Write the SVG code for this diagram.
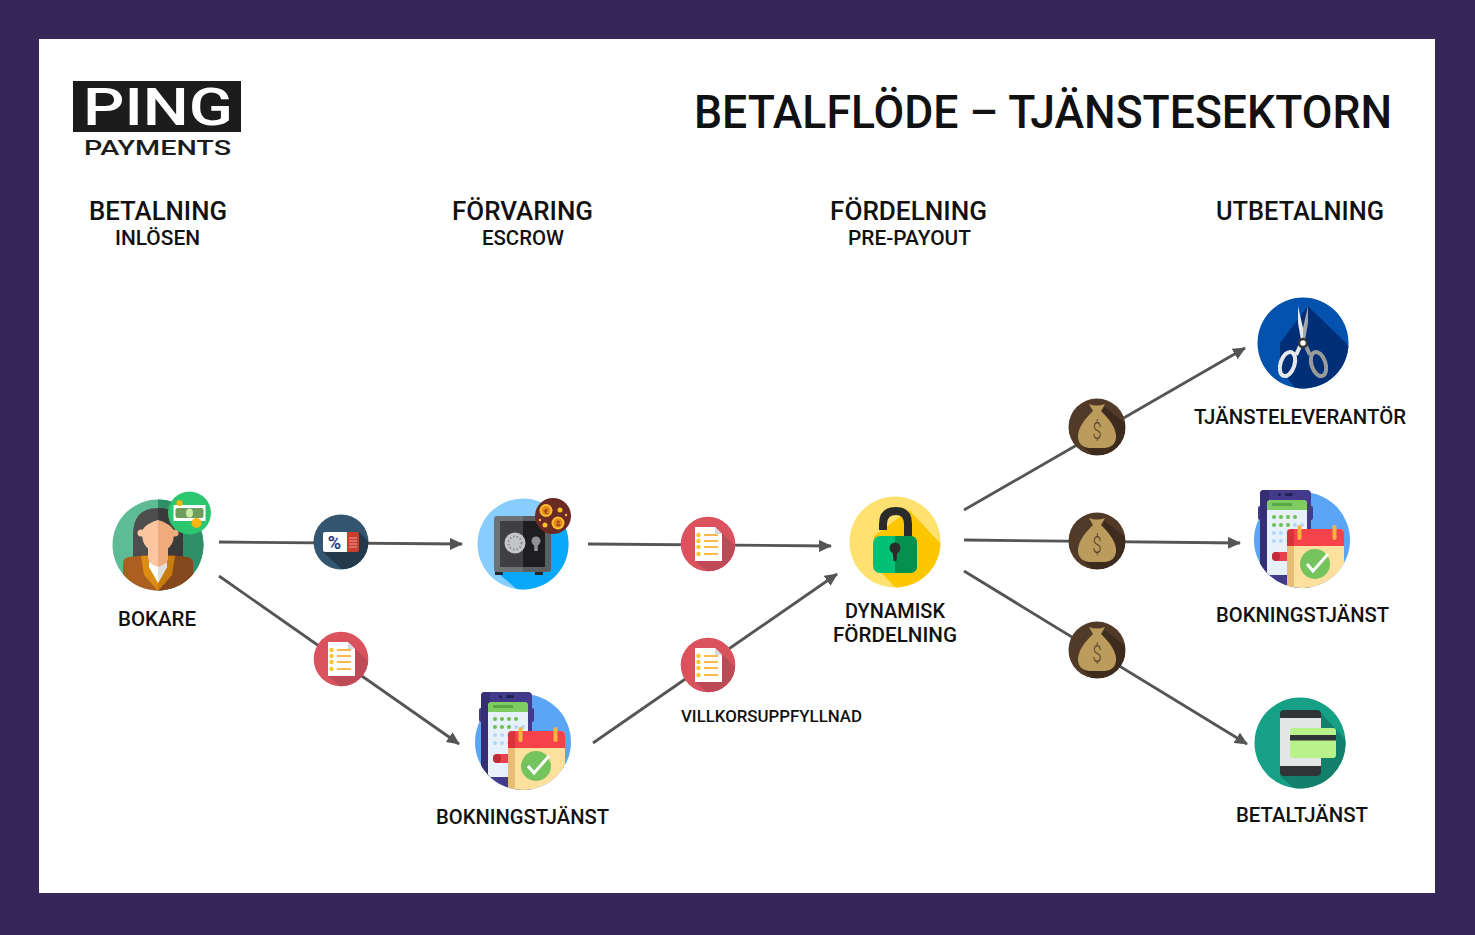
<svg xmlns="http://www.w3.org/2000/svg" xmlns:xlink="http://www.w3.org/1999/xlink" width="1475" height="935" viewBox="0 0 1475 935">
<style>
text{font-family:"Roboto","Liberation Sans",sans-serif;fill:#111;font-weight:500}
.title{font-size:46px}
.head{font-size:26px}
.sub{font-size:20px}
.lab{font-size:21px}
.small{font-size:17px}
.conn{stroke:#555;stroke-width:2.8;fill:none;marker-end:url(#arrow)}
</style>
<defs>
<marker id="arrow" markerUnits="userSpaceOnUse" markerWidth="14" markerHeight="12" refX="12" refY="6" orient="auto"><path d="M0 0L13 6L0 12Z" fill="#555"/></marker>
<clipPath id="c455"><circle r="45.5"/></clipPath>
<clipPath id="c48"><circle r="48"/></clipPath>
<clipPath id="cbook"><circle r="48"/><rect x="-50" y="-55" width="100" height="55"/></clipPath>
<clipPath id="c27"><circle r="27.3"/></clipPath>
<clipPath id="c285"><circle r="28.5"/></clipPath>
<g id="doc">
<circle r="27.3" fill="#d9525e"/>
<path d="M14 -11L28 3V28H0L-13 17Z" fill="#bf4a57" clip-path="url(#c27)"/>
<path d="M-13 -17H7L14 -10V17H-13Z" fill="#fff"/>
<path d="M7 -17L14 -10H7Z" fill="#d3dbe2"/>
<g fill="#fdc72b"><circle cx="-9.500" cy="-9" r="2.200"/><circle cx="-9.500" cy="-3" r="2.200"/><circle cx="-9.500" cy="3" r="2.200"/><circle cx="-9.500" cy="10" r="2.200"/></g>
<path d="M-4 -9H10M-4 -3H10M-4 3H10M-4 10H10" stroke="#fdb84d" stroke-width="1.800"/>
</g>
<g id="bag">
<circle r="28.5" fill="#513a28"/>
<path d="M8 -20L28 -4V28H-5L-18 16Z" fill="#3d2c1e" clip-path="url(#c285)"/>
<path d="M-6 -14Q-20 0 -19 11Q-18 20 -8 21H8Q18 20 19 11Q20 0 6 -14Z" fill="#bb9c5c"/>
<path d="M-6 -14L-4 -16L-8 -23Q0 -20 8 -23L4 -16L6 -14Z" fill="#bb9c5c"/>
<text x="-4.500" y="12" textLength="9" lengthAdjust="spacingAndGlyphs" style="font-size:23px;font-weight:300;fill:#5a3f2a">$</text>
</g>
<g id="booking">
<circle r="48" fill="#5aa5f5"/>
<g clip-path="url(#cbook)">
<rect x="-44" y="-34" width="4" height="14" rx="2" fill="#433a8c"/>
<rect x="7" y="-34" width="4" height="14" rx="2" fill="#433a8c"/>
<path d="M-42 -46Q-42 -50 -38 -50H5Q9 -50 9 -46V48H-42Z" fill="#433a8c"/>
<path d="M-42 -46Q-42 -50 -38 -50H-33V48H-42Z" fill="#352e75"/>
<rect x="-24" y="-47" width="3" height="3" rx="1.500" fill="#1d2450"/><rect x="-17" y="-47" width="8" height="3" rx="1.500" fill="#1d2450"/>
<path d="M-35 -36Q-35 -40 -31 -40H1Q5 -40 5 -36V35H-35Z" fill="#e6f1fb"/>
<path d="M-35 -36Q-35 -40 -31 -40H1Q5 -40 5 -36V-30H-35Z" fill="#7ecb60"/>
<rect x="-30" y="-37" width="20" height="3" fill="#5aa544"/>
<g fill="#6fbe4f"><circle cx="-28" cy="-23" r="2"/><circle cx="-21" cy="-23" r="2"/><circle cx="-14" cy="-23" r="2"/><circle cx="-7" cy="-23" r="2"/><circle cx="-28" cy="-15" r="2"/><circle cx="-21" cy="-15" r="2"/><circle cx="-14" cy="-15" r="2"/></g>
<g fill="#b6d6f5"><circle cx="-7" cy="-15" r="2"/><circle cx="0" cy="-15" r="2"/><circle cx="-28" cy="-7" r="2"/><circle cx="-21" cy="-7" r="2"/><circle cx="-14" cy="-7" r="2"/><circle cx="-28" cy="1" r="2"/><circle cx="-21" cy="1" r="2"/><circle cx="-14" cy="1" r="2"/></g>
<rect x="-30" y="12" width="24" height="9" rx="4.500" fill="#e9414d"/>
<rect x="-30" y="12" width="8" height="9" rx="4" fill="#c22a38"/>
<path d="M-15 -7Q-15 -11 -11 -11H38Q42 -11 42 -7V48H-15Z" fill="#fde09b"/>
<path d="M-15 -7Q-15 -11 -11 -11H38Q42 -11 42 -7V6H-15Z" fill="#f6424a"/>
<path d="M-15 -7Q-15 -11 -11 -11H-8V48H-15Z" fill="#e8bd75"/>
<path d="M-15 -7Q-15 -11 -11 -11H-8V6H-15Z" fill="#d8323b"/>
<rect x="-4.500" y="-15" width="4" height="15" rx="2" fill="#f6b63e"/><rect x="30.500" y="-15" width="4" height="15" rx="2" fill="#f6b63e"/>
<circle cx="13" cy="24" r="15" fill="#74c35c"/>
<path d="M5 24L11 31L26 14" fill="none" stroke="#fff" stroke-width="3"/>
</g>
</g>
</defs>

<rect width="1475" height="935" fill="#352757"/>
<rect x="39" y="39" width="1396" height="854" fill="#fff"/>

<g id="logo">
<rect x="73" y="81" width="168" height="51" fill="#1c1c1c"/>
<text x="83" y="125" textLength="150" lengthAdjust="spacingAndGlyphs" style="font-size:52px;fill:#fff">PING</text>
<text x="84" y="155" textLength="147" lengthAdjust="spacingAndGlyphs" style="font-size:20px;fill:#1c1c1c">PAYMENTS</text>
</g>
<text id="title" class="title" x="694" y="128" textLength="698" lengthAdjust="spacingAndGlyphs">BETALFLÖDE – TJÄNSTESEKTORN</text>
<g id="headers">
<text class="head" x="89" y="220" textLength="138" lengthAdjust="spacingAndGlyphs">BETALNING</text>
<text class="sub" x="115" y="245" textLength="85" lengthAdjust="spacingAndGlyphs">INLÖSEN</text>
<text class="head" x="452" y="220" textLength="141" lengthAdjust="spacingAndGlyphs">FÖRVARING</text>
<text class="sub" x="482" y="245" textLength="82" lengthAdjust="spacingAndGlyphs">ESCROW</text>
<text class="head" x="830" y="220" textLength="157" lengthAdjust="spacingAndGlyphs">FÖRDELNING</text>
<text class="sub" x="848" y="245" textLength="123" lengthAdjust="spacingAndGlyphs">PRE-PAYOUT</text>
<text class="head" x="1216" y="220" textLength="168" lengthAdjust="spacingAndGlyphs">UTBETALNING</text>
</g>

<g id="connectors">
<path class="conn" d="M219 542L462 544"/>
<path class="conn" d="M219 576L459 744"/>
<path class="conn" d="M588 544L831 546"/>
<path class="conn" d="M593 743L837 574"/>
<path class="conn" d="M964 510L1245 348"/>
<path class="conn" d="M964 540L1240 543"/>
<path class="conn" d="M964 571L1247 744"/>
</g>

<g id="badge-percent" transform="translate(341 542)">
<circle r="27.500" fill="#345570"/>
<path d="M18 -10L28 0V28H2L-18 10Z" fill="#233a4c" clip-path="url(#c27)"/>
<path d="M-16 -10H6V10H-16Q-18 10 -18 8V-8Q-18 -10 -16 -10Z" fill="#fff"/>
<path d="M6 -10H16Q18 -10 18 -8V8Q18 10 16 10H6Z" fill="#c9402a"/>
<path d="M8 -4H16M8 -1H16M8 2H16M8 5H16" stroke="#e6a79b" stroke-width="1.200"/>
<text x="-6.500" y="6.500" text-anchor="middle" style="font-size:18px;font-weight:700;fill:#2a3a80">%</text>
</g>
<use id="badge-doc-1" href="#doc" xlink:href="#doc" x="341" y="659"/>
<use id="badge-doc-2" href="#doc" xlink:href="#doc" x="708" y="544"/>
<use id="badge-doc-3" href="#doc" xlink:href="#doc" x="708" y="665"/>
<use id="badge-bag-1" href="#bag" xlink:href="#bag" x="1097" y="427"/>
<use id="badge-bag-2" href="#bag" xlink:href="#bag" x="1097" y="541"/>
<use id="badge-bag-3" href="#bag" xlink:href="#bag" x="1097" y="650"/>

<g id="node-bokare">
<g transform="translate(158 545)">
<circle r="45.500" fill="#5dbb95"/>
<path d="M0 -45.500A45.500 45.500 0 0 1 0 45.500Z" fill="#2f9068"/>
<g clip-path="url(#c455)">
<path d="M-25 14V-10Q-25 -37 0 -37Q25 -37 25 -10V14Z" fill="#4d4d4d"/>
<path d="M0 -37Q25 -37 25 -10V14H0Z" fill="#3a3a3a"/>
<path d="M-35 50V18Q-35 13 -29 12L-10 10H10L29 12Q35 13 35 18V50Z" fill="#ac5f21"/>
<path d="M0 10H10L29 12Q35 13 35 18V50H0Z" fill="#84481c"/>
<path d="M-17 11L0 11L0 46L-14 30Z" fill="#db8d13"/><path d="M17 11L0 11L0 46L14 30Z" fill="#c67d0d"/>
<path d="M-9 17H9V22L0 38L-9 22Z" fill="#fff"/><path d="M0 17H9V22L0 38Z" fill="#dedede"/>
<path d="M-10 -5H10V12Q10 19 0 22Q-10 19 -10 12Z" fill="#fbc6a0"/><path d="M0 -5H10V12Q10 19 0 22Z" fill="#f0ab7c"/>
<circle cx="-17" cy="-12" r="3.500" fill="#fbc6a0"/><circle cx="17" cy="-12" r="3.500" fill="#f0ab7c"/>
<path d="M0 -25Q-16 -20 -16 -12Q-16 6 0 6Z" fill="#fbc6a0"/>
<path d="M0 -25Q16 -20 16 -12Q16 6 0 6Z" fill="#f0ab7c"/>
</g>
</g>
<g transform="translate(189.500 513)">
<circle r="21.500" fill="#2cc66f"/>
<rect x="-16" y="-8" width="32" height="16" fill="#fff"/>
<rect x="-14" y="-5" width="28" height="10" rx="2" fill="#6d9c5d"/>
<ellipse rx="3.500" ry="4.500" fill="#c8eca0"/>
<circle cx="7" cy="10" r="5" fill="#fbb60f"/><circle cx="-10" cy="-10" r="3" fill="#fbb60f"/>
</g>
<text class="lab" x="118" y="626" textLength="78" lengthAdjust="spacingAndGlyphs">BOKARE</text>
</g>

<g id="node-forvaring">
<g transform="translate(523 544)">
<circle r="45.500" fill="#87ceff"/>
<path d="M-29 26L30 -30L46 -20V46H-5Z" fill="#0aa8fb" clip-path="url(#c455)"/>
<rect x="-28" y="27" width="8" height="4" fill="#20252b"/><rect x="12" y="27" width="8" height="4" fill="#20252b"/>
<rect x="-29" y="-28" width="57" height="56" rx="3" fill="#6e7175"/>
<path d="M0 -28H25Q28 -28 28 -25V25Q28 28 25 28H0Z" fill="#5c5e62"/>
<rect x="-23" y="-23" width="45" height="46" fill="#3f3f44"/>
<rect x="0" y="-23" width="22" height="46" fill="#1e1e20"/>
<circle cx="-8" cy="-1" r="10.500" fill="#c5c6c8"/>
<circle cx="-8" cy="-1" r="6.500" fill="none" stroke="#8d8e90" stroke-width="2" stroke-dasharray="1.500 2"/>
<circle cx="13" cy="-3" r="4.500" fill="#8f9194"/><rect x="11.200" y="-2" width="3.600" height="9" fill="#8f9194"/>
</g>
<g transform="translate(553 516)">
<circle r="18" fill="#6b2a24"/>
<circle cx="-7" cy="-5.500" r="6.500" fill="#fbc02d"/><circle cx="-7" cy="-5.500" r="4.500" fill="#e98a1f"/>
<circle cx="5" cy="7" r="6.500" fill="#fbc02d"/><circle cx="5" cy="7" r="4.500" fill="#e98a1f"/>
<text x="-7" y="-2.500" text-anchor="middle" style="font-size:8px;font-weight:700;fill:#8a3d1a">€</text>
<text x="5" y="10" text-anchor="middle" style="font-size:8px;font-weight:700;fill:#8a3d1a">$</text>
<circle cx="7" cy="-6" r="2.500" fill="#fbc02d"/><circle cx="-8" cy="9" r="2.500" fill="#fbc02d"/><circle cx="13" cy="-1" r="1.200" fill="#fbc02d"/><circle cx="-13" cy="4" r="1.200" fill="#fbc02d"/>
</g>
</g>

<g id="node-bokningstjanst-1">
<use href="#booking" xlink:href="#booking" x="523" y="742"/>
<text class="lab" x="436" y="824" textLength="173" lengthAdjust="spacingAndGlyphs">BOKNINGSTJÄNST</text>
</g>

<g id="node-dynamisk" transform="translate(895 542)">
<circle r="45.500" fill="#ffe16f"/>
<path d="M14 -32L46 2V46H1L-21 23L-21 -6Z" fill="#fdc700" clip-path="url(#c455)"/>
<path d="M-12 -12V-18Q-12 -31 1 -31Q13 -31 13 -18V-4" fill="none" stroke="#2b2b2b" stroke-width="8"/>
<rect x="-22" y="-6" width="44" height="37" rx="7" fill="#02c176"/>
<path d="M0 -6H15Q22 -6 22 1V24Q22 31 15 31H0Z" fill="#05904f"/>
<circle cx="0" cy="6" r="5.500" fill="#2b2b2b"/><path d="M-2.500 8H2.500L1.500 19H-1.500Z" fill="#2b2b2b"/>
</g>
<g id="label-dynamisk">
<text class="lab" x="845" y="618" textLength="100" lengthAdjust="spacingAndGlyphs">DYNAMISK</text>
<text class="lab" x="833" y="642" textLength="124" lengthAdjust="spacingAndGlyphs">FÖRDELNING</text>
</g>
<text id="label-villkor" class="small" x="681" y="722" textLength="181" lengthAdjust="spacingAndGlyphs">VILLKORSUPPFYLLNAD</text>

<g id="node-tjansteleverantor">
<g transform="translate(1303 343)">
<circle r="45.500" fill="#0352ad"/>
<path d="M5 -37L46 3V46H-7L-23 26L-23 0Z" fill="#002f78" clip-path="url(#c455)"/>
<path d="M-5 -37L-5 -20L-2 -3L0 -3L0 -15Z" fill="#e6e8ea"/><path d="M5 -37L5 -20L2 -3L0 -3L0 -15Z" fill="#a4a8ac"/>
<path d="M-1 -1L-7 12" stroke="#e6e8ea" stroke-width="4"/><path d="M1 -1L7 12" stroke="#9a9a9a" stroke-width="4"/>
<ellipse cx="-15.500" cy="21" rx="7" ry="12.500" transform="rotate(18 -15.500 21)" fill="none" stroke="#e6e8ea" stroke-width="4"/>
<ellipse cx="15.500" cy="21" rx="7" ry="12.500" transform="rotate(-18 15.500 21)" fill="none" stroke="#9a9a9a" stroke-width="4"/>
<circle r="4" fill="#fff" stroke="#333" stroke-width="2.500"/>
</g>
<text class="lab" x="1194" y="424" textLength="212" lengthAdjust="spacingAndGlyphs">TJÄNSTELEVERANTÖR</text>
</g>

<g id="node-bokningstjanst-2">
<use href="#booking" xlink:href="#booking" x="1302" y="540"/>
<text class="lab" x="1216" y="622" textLength="173" lengthAdjust="spacingAndGlyphs">BOKNINGSTJÄNST</text>
</g>

<g id="node-betaltjanst">
<g transform="translate(1300 743)">
<circle r="45.500" fill="#16a085"/>
<path d="M21 -30L46 -3V46H-5L-20 33Z" fill="#12806b" clip-path="url(#c455)"/>
<rect x="-20" y="-33" width="41" height="66" rx="4" fill="#2f3437"/>
<rect x="-20" y="-25" width="41" height="48" fill="#e4e6e6"/>
<rect x="-10" y="-15" width="46" height="30" rx="3" fill="#b9f28b"/>
<rect x="-10" y="-8" width="46" height="5.500" fill="#2f3437"/>
</g>
<text class="lab" x="1236" y="822" textLength="132" lengthAdjust="spacingAndGlyphs">BETALTJÄNST</text>
</g>
</svg>
